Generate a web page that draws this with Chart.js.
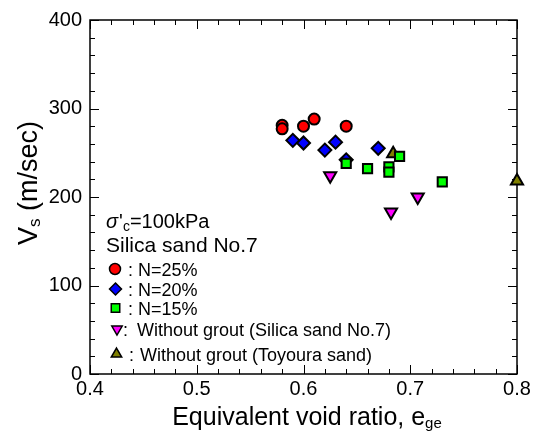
<!DOCTYPE html>
<html>
<head>
<meta charset="utf-8">
<script src="https://cdn.jsdelivr.net/npm/chart.js@4.4.1/dist/chart.umd.min.js"></script>
<style>
  html, body { margin: 0; padding: 0; background: #fff; }
</style>
</head>
<body>
<canvas id="chart" width="541" height="439"></canvas>
<script>
const FONT = "'Liberation Sans', Arial, sans-serif";

// tick labels
const xTicks = [0.4, 0.5, 0.6, 0.7, 0.8];
const yTicks = [0, 100, 200, 300, 400];

// N=25% (red circles)
const n25X = [0.58, 0.58, 0.60, 0.61, 0.64];
const n25Y = [281, 277, 280, 288, 280];
// N=20% (blue diamonds)
const n20X = [0.59, 0.60, 0.62, 0.63, 0.64, 0.67];
const n20Y = [264, 261, 253, 262, 242, 255];
// N=15% (green squares)
const n15X = [0.64, 0.66, 0.68, 0.68, 0.69, 0.73];
const n15Y = [238, 232, 234, 228, 246, 217];
// without grout, Silica sand No.7
const silX = [0.625, 0.682, 0.707];
const silY = [224, 183, 200];
// without grout, Toyoura sand
const toyX = [0.684, 0.8];
const toyY = [249, 218];

function pts(xs, ys) {
  return xs.map((x, i) => ({ x: x, y: ys[i] }));
}

const legendItems = [
  { style: 'circle', color: '#ff0000', r: 5.5, rot: 0, x: 115, y: 269, colon: ': ', cx: 128, text: 'N=25%' },
  { style: 'rectRot', color: '#0000ff', r: 6, rot: 0, x: 115.5, y: 289, colon: ': ', cx: 128, text: 'N=20%' },
  { style: 'rect', color: '#00ff00', r: 6, rot: 0, x: 115.5, y: 308, colon: ': ', cx: 128, text: 'N=15%' },
  { style: 'triangle', color: '#ff00ff', r: 6, rot: 180, x: 117, y: 329, colon: ':', cx: 123, text: 'Without grout (Silica sand No.7)', tx: 137 },
  { style: 'triangle', color: '#808000', r: 6, rot: 0, x: 116.5, y: 354, colon: ':', cx: 129, text: 'Without grout (Toyoura sand)', tx: 140 }
];

const frame = {
  id: 'frame',
  beforeDatasetsDraw(chart) {
    const { ctx, chartArea: a, scales: { x, y } } = chart;
    ctx.save();
    ctx.strokeStyle = '#000';
    ctx.lineWidth = 1;
    for (let i = 0; i <= 20; i++) {
      const px = Math.round(x.getPixelForValue(0.4 + i * 0.02)) + 0.5;
      const len = i % 5 === 0 ? 9 : 5;
      ctx.beginPath();
      ctx.moveTo(px, a.bottom); ctx.lineTo(px, a.bottom - len);
      ctx.moveTo(px, a.top); ctx.lineTo(px, a.top + len);
      ctx.stroke();
    }
    for (let i = 0; i <= 20; i++) {
      const py = Math.round(y.getPixelForValue(i * 20)) + 0.5;
      const len = i % 5 === 0 ? 9 : 5;
      ctx.beginPath();
      ctx.moveTo(a.left, py); ctx.lineTo(a.left + len, py);
      ctx.moveTo(a.right, py); ctx.lineTo(a.right - len, py);
      ctx.stroke();
    }
    ctx.lineWidth = 1.5;
    ctx.strokeRect(a.left, a.top, a.right - a.left, a.bottom - a.top);
    ctx.restore();
  },
  afterDraw(chart) {
    const { ctx, chartArea: a } = chart;
    ctx.save();
    ctx.fillStyle = '#000';
    ctx.textBaseline = 'alphabetic';

    // y title: Vs (m/sec)
    ctx.save();
    ctx.translate(37, 183);
    ctx.rotate(-Math.PI / 2);
    ctx.font = '27px ' + FONT;
    const wV = ctx.measureText('V').width;
    const wRest = ctx.measureText(' (m/sec)').width;
    ctx.font = '17px ' + FONT;
    const wS = ctx.measureText('s').width;
    let sx = -(wV + wS + wRest) / 2;
    ctx.font = '27px ' + FONT;
    ctx.fillText('V', sx, 0);
    ctx.font = '17px ' + FONT;
    ctx.fillText('s', sx + wV, 3);
    ctx.font = '27px ' + FONT;
    ctx.fillText(' (m/sec)', sx + wV + wS, 0);
    ctx.restore();

    // x title: Equivalent void ratio, ege
    ctx.font = '25px ' + FONT;
    const main = 'Equivalent void ratio, e';
    const wm = ctx.measureText(main).width;
    ctx.font = '15px ' + FONT;
    const wg = ctx.measureText('ge').width;
    let tx = 307 - (wm + wg) / 2;
    ctx.font = '25px ' + FONT;
    ctx.fillText(main, tx, 425);
    ctx.font = '15px ' + FONT;
    ctx.fillText('ge', tx + wm, 428);

    // sigma'c = 100kPa
    let lx = 106;
    ctx.font = 'italic 20px ' + FONT;
    ctx.fillText('\u03c3', lx, 228);
    lx += ctx.measureText('\u03c3').width;
    ctx.font = '20px ' + FONT;
    ctx.fillText("'", lx + 1, 228);
    lx += ctx.measureText("'").width + 1;
    ctx.font = '14px ' + FONT;
    ctx.fillText('c', lx, 231);
    lx += ctx.measureText('c').width;
    ctx.font = '20px ' + FONT;
    ctx.fillText('=100kPa', lx, 228);

    ctx.font = '21px ' + FONT;
    ctx.fillText('Silica sand No.7', 106, 252);

    // legend
    legendItems.forEach((it) => {
      ctx.fillStyle = it.color;
      ctx.strokeStyle = '#000';
      ctx.lineWidth = 1.5;
      Chart.helpers.drawPoint(ctx, { pointStyle: it.style, radius: it.r, rotation: it.rot, borderWidth: 1.5 }, it.x, it.y);
      ctx.fillStyle = '#000';
      ctx.font = '18px ' + FONT;
      const base = it.y + 6.5;
      ctx.fillText(it.colon, it.cx, base);
      const textX = it.tx || it.cx + ctx.measureText(it.colon).width;
      ctx.fillText(it.text, textX, base);
    });
    ctx.restore();
  }
};

const common = { borderColor: '#000', borderWidth: 2, clip: false, pointHoverRadius: 6 };

new Chart(document.getElementById('chart'), {
  type: 'scatter',
  data: {
    datasets: [
      Object.assign({ label: 'N=15%', data: pts(n15X, n15Y), pointStyle: 'rect', pointRadius: 6.5, backgroundColor: '#00ff00' }, common),
      Object.assign({ label: 'N=25%', data: pts(n25X, n25Y), pointStyle: 'circle', pointRadius: 5.5, backgroundColor: '#ff0000' }, common),
      Object.assign({ label: 'N=20%', data: pts(n20X, n20Y), pointStyle: 'rectRot', pointRadius: 6.5, backgroundColor: '#0000ff' }, common),
      Object.assign({ label: 'Without grout (Silica sand No.7)', data: pts(silX, silY), pointStyle: 'triangle', rotation: 180, pointRadius: 7, backgroundColor: '#ff00ff' }, common),
      Object.assign({ label: 'Without grout (Toyoura sand)', data: pts(toyX, toyY), pointStyle: 'triangle', pointRadius: 7, backgroundColor: '#808000' }, common)
    ]
  },
  options: {
    responsive: false,
    devicePixelRatio: 1,
    animation: false,
    layout: { padding: { left: 0, top: 20, right: 24, bottom: 0 } },
    plugins: { legend: { display: false }, tooltip: { enabled: false } },
    scales: {
      x: {
        type: 'linear',
        min: 0.4,
        max: 0.8,
        afterBuildTicks: (s) => { s.ticks = xTicks.map((v) => ({ value: v })); },
        afterFit: (s) => { s.height = 65; },
        grid: { display: false, drawTicks: false },
        border: { display: false },
        ticks: {
          color: '#000',
          font: { family: FONT, size: 20 },
          padding: 3,
          maxRotation: 0,
          autoSkip: false,
          callback: (v) => Number(v).toFixed(1)
        }
      },
      y: {
        type: 'linear',
        min: 0,
        max: 400,
        afterBuildTicks: (s) => { s.ticks = yTicks.map((v) => ({ value: v })); },
        afterFit: (s) => { s.width = 90; },
        grid: { display: false, drawTicks: false },
        border: { display: false },
        ticks: {
          color: '#000',
          font: { family: FONT, size: 20 },
          padding: 8,
          autoSkip: false
        }
      }
    }
  },
  plugins: [frame]
});
</script>
</body>
</html>
